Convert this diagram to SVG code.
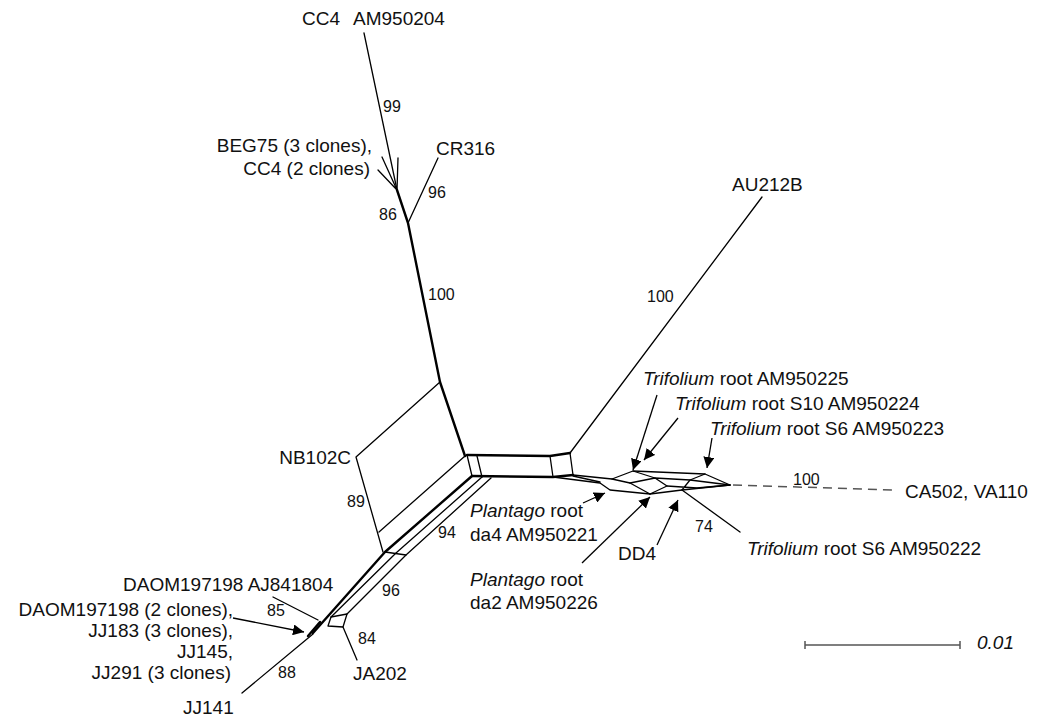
<svg xmlns="http://www.w3.org/2000/svg" width="1037" height="718" viewBox="0 0 1037 718">
<style>
.e{fill:none;stroke:#000;stroke-width:1.3;stroke-linejoin:round;stroke-linecap:round}
.t{fill:none;stroke:#000;stroke-width:2.4;stroke-linejoin:round;stroke-linecap:round}
.a{fill:none;stroke:#000;stroke-width:1.3;marker-end:url(#ah)}
.d{fill:none;stroke:#555;stroke-width:1.5;stroke-dasharray:9 6}
.lb{font-family:"Liberation Sans",Arial,sans-serif;font-size:19px;fill:#111}
.n{font-family:"Liberation Sans",Arial,sans-serif;font-size:16px;fill:#111}
.i{font-style:italic}
</style>
<defs>
<marker id="ah" viewBox="0 0 10 10" refX="10" refY="5" markerWidth="11" markerHeight="11" markerUnits="userSpaceOnUse" orient="auto">
<path d="M0,0 L10,5 L0,10 z" fill="#000"/>
</marker>
</defs>
<rect width="1037" height="718" fill="#fff"/>
<g id="connectors">
<path class="e" d="M364,33 L397,190"/>
<path class="e" d="M382,157 L397,190 M378,170 L397,190 M398,158 L397,190"/>
<path class="t" d="M397,190 L408,223 L440,382 L465,456"/>
<path class="e" d="M438,158 L408,223"/>
<path class="e" d="M440,382 L356,457 L383,552 M379,532 L465,456"/>
<path class="t" d="M467,455 L550,456 L570,453 M472,476 L553,477 L573,475"/>
<path class="e" d="M465,456 L467,455 M467,455 L472,476 M477,456 L482,477 M550,456 L553,477 M570,453 L573,475"/>
<path class="e" d="M570,453 L762,197"/>
<path class="t" d="M472,476 L385,552 L313,633"/>
<path class="e" d="M482,477 L396,553 L331,617"/>
<path class="e" d="M491,478 L406,555 L347,614"/>
<path class="e" d="M385,552 L406,555"/>
<path class="e" d="M331,617 L347,614 L343,627 L328,626 Z"/>
<path class="t" d="M320,622 L308,636"/>
<path class="e" d="M313,634 L242,693"/>
<path class="e" d="M343,627 L357,660"/>
<path class="e" d="M273,597 L318,620"/>
<path class="e" d="M573,475 L612,479 L633,471 L705,474 L730,485"/>
<path class="e" d="M553,477 L600,483 L610,490 L650,494 L682,490 L730,485"/>
<path class="e" d="M573,476 L600,482 M612,479 L630,483 L650,494"/>
<path class="e" d="M633,471 L655,478 L667,486 L650,494"/>
<path class="e" d="M630,483 L655,478 L690,480 L730,485"/>
<path class="e" d="M705,474 L690,480 L682,490 M667,486 L697,488 L730,485"/>
<path class="e" d="M682,490 L740,532"/>
<path class="d" d="M733,485 L893,490"/>
<path class="a" d="M657,395 L633,470"/>
<path class="a" d="M678,418 L644,460"/>
<path class="a" d="M712,438 L707,468"/>
<path class="a" d="M583,503 L605,493"/>
<path class="a" d="M582,563 L650,497"/>
<path class="a" d="M657,545 L678,500"/>
<path class="a" d="M233,618 L304,632"/>
<path d="M805,645 L960,645 M805,641 L805,649 M960,641 L960,649" fill="none" stroke="#555" stroke-width="1.5"/>
</g>
<g id="n-cc4"><text class="lb" x="302" y="25">CC4<tspan x="353">AM950204</tspan></text></g>
<g id="n-beg75"><text class="lb" x="372" y="152" text-anchor="end">BEG75 (3 clones),</text><text class="lb" x="370" y="175" text-anchor="end">CC4 (2 clones)</text></g>
<g id="n-cr316"><text class="lb" x="436" y="155">CR316</text></g>
<g id="n-au212b"><text class="lb" x="732" y="191">AU212B</text></g>
<g id="n-nb102c"><text class="lb" x="351" y="464" text-anchor="end">NB102C</text></g>
<g id="n-t225"><text class="lb" x="643" y="385"><tspan class="i">Trifolium</tspan> root AM950225</text></g>
<g id="n-t224"><text class="lb" x="675" y="410"><tspan class="i">Trifolium</tspan> root S10 AM950224</text></g>
<g id="n-t223"><text class="lb" x="710" y="435"><tspan class="i">Trifolium</tspan> root S6 AM950223</text></g>
<g id="n-ca502"><text class="lb" x="905" y="498">CA502, VA110</text></g>
<g id="n-p221"><text class="lb" x="470" y="517"><tspan class="i">Plantago</tspan> root</text><text class="lb" x="470" y="541">da4 AM950221</text></g>
<g id="n-dd4"><text class="lb" x="618" y="560">DD4</text></g>
<g id="n-t222"><text class="lb" x="747" y="555"><tspan class="i">Trifolium</tspan> root S6 AM950222</text></g>
<g id="n-p226"><text class="lb" x="470" y="586"><tspan class="i">Plantago</tspan> root</text><text class="lb" x="470" y="609">da2 AM950226</text></g>
<g id="n-daom1"><text class="lb" x="123" y="591">DAOM197198 AJ841804</text></g>
<g id="n-daom2"><text class="lb" x="233" y="616" text-anchor="end">DAOM197198 (2 clones),</text><text class="lb" x="233" y="637" text-anchor="end">JJ183 (3 clones),</text><text class="lb" x="233" y="658" text-anchor="end">JJ145,</text><text class="lb" x="231" y="679" text-anchor="end">JJ291 (3 clones)</text></g>
<g id="n-ja202"><text class="lb" x="353" y="680">JA202</text></g>
<g id="n-jj141"><text class="lb" x="183" y="714">JJ141</text></g>
<g id="labels">
<text class="n" x="383" y="112">99</text>
<text class="n" x="428" y="198">96</text>
<text class="n" x="379" y="220">86</text>
<text class="n" x="428" y="300">100</text>
<text class="n" x="647" y="302">100</text>
<text class="n" x="347" y="507">89</text>
<text class="n" x="438" y="538">94</text>
<text class="n" x="382" y="596">96</text>
<text class="n" x="267" y="616">85</text>
<text class="n" x="358" y="644">84</text>
<text class="n" x="278" y="678">88</text>
<text class="n" x="695" y="532">74</text>
<text class="n" x="793" y="485">100</text>
<text class="lb i" x="977" y="649">0.01</text>
</g>
</svg>
